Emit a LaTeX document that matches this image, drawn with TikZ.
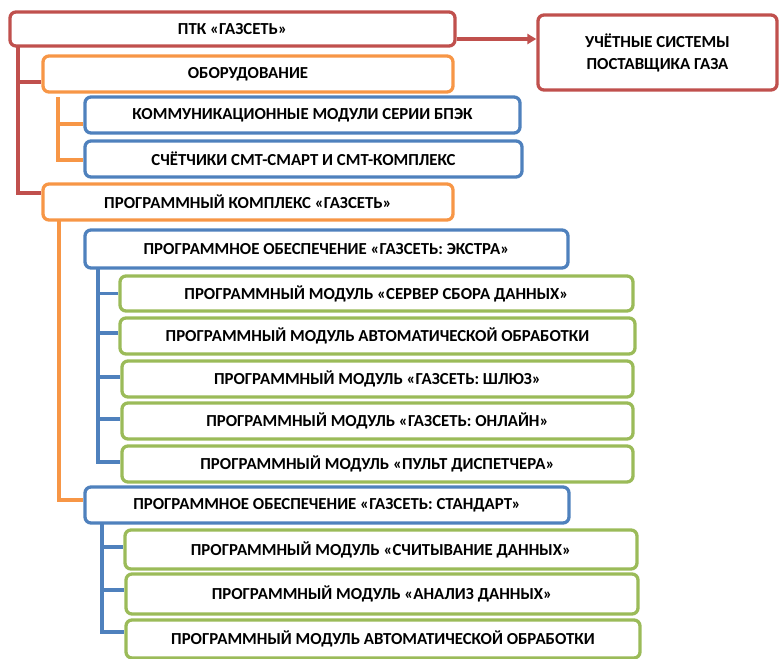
\documentclass[tikz,border=0pt]{standalone}
\usepackage{fontspec}
\setmainfont{Carlito}
\usetikzlibrary{calc,arrows.meta}
\definecolor{cred}{HTML}{C0504D}
\definecolor{corange}{HTML}{F79646}
\definecolor{cblue}{HTML}{4F81BD}
\definecolor{cgreen}{HTML}{9BBB59}
\tikzset{
  bx/.style={draw, line width=3.3pt, rounded corners=6pt, fill=white, inner sep=0pt,
    font=\bfseries\fontsize{16.8}{22}\selectfont, text=black, align=center},
  redbox/.style={bx, draw=cred},
  orbox/.style={bx, draw=corange},
  blbox/.style={bx, draw=cblue},
  grbox/.style={bx, draw=cgreen},
  ln/.style={line width=3.3pt},
}
\begin{document}
\begin{tikzpicture}[x=1pt,y=-1pt]
\useasboundingbox (0,0) rectangle (780,659);
% nodes
\node[redbox, minimum width=445, minimum height=34] (n1) at (232.5,29) {ПТК «ГАЗСЕТЬ»};
\node[redbox, minimum width=239, minimum height=75] (uchet) at (657.5,52.5) {УЧЁТНЫЕ СИСТЕМЫ\\ПОСТАВЩИКА ГАЗА};
\node[orbox, minimum width=410, minimum height=36] (oboru) at (248,74) {ОБОРУДОВАНИЕ};
\node[blbox, minimum width=435, minimum height=36] (komm) at (302.5,115) {КОММУНИКАЦИОННЫЕ МОДУЛИ СЕРИИ БПЭК};
\node[blbox, minimum width=437, minimum height=36] (schet) at (303.5,159) {СЧЁТЧИКИ СМТ-СМАРТ И СМТ-КОМПЛЕКС};
\node[orbox, minimum width=410, minimum height=36] (kompl) at (248,202) {ПРОГРАММНЫЙ КОМПЛЕКС «ГАЗСЕТЬ»};
\node[blbox, minimum width=483, minimum height=38] (ekstra) at (326.5,249) {ПРОГРАММНОЕ ОБЕСПЕЧЕНИЕ «ГАЗСЕТЬ: ЭКСТРА»};
\node[grbox, minimum width=513, minimum height=35] (g1) at (376.5,293.5) {ПРОГРАММНЫЙ МОДУЛЬ «СЕРВЕР СБОРА ДАННЫХ»};
\node[grbox, minimum width=515, minimum height=36] (g2) at (377.5,336) {ПРОГРАММНЫЙ МОДУЛЬ АВТОМАТИЧЕСКОЙ ОБРАБОТКИ};
\node[grbox, minimum width=511, minimum height=36] (g3) at (377.5,379) {ПРОГРАММНЫЙ МОДУЛЬ «ГАЗСЕТЬ: ШЛЮЗ»};
\node[grbox, minimum width=511, minimum height=36] (g4) at (377.5,421) {ПРОГРАММНЫЙ МОДУЛЬ «ГАЗСЕТЬ: ОНЛАЙН»};
\node[grbox, minimum width=511, minimum height=36] (g5) at (377.5,464) {ПРОГРАММНЫЙ МОДУЛЬ «ПУЛЬТ ДИСПЕТЧЕРА»};
\node[blbox, minimum width=484, minimum height=36] (stand) at (327,505) {ПРОГРАММНОЕ ОБЕСПЕЧЕНИЕ «ГАЗСЕТЬ: СТАНДАРТ»};
\node[grbox, minimum width=512, minimum height=39] (g6) at (381,549.5) {ПРОГРАММНЫЙ МОДУЛЬ «СЧИТЫВАНИЕ ДАННЫХ»};
\node[grbox, minimum width=512, minimum height=40] (g7) at (382,594) {ПРОГРАММНЫЙ МОДУЛЬ «АНАЛИЗ ДАННЫХ»};
\node[grbox, minimum width=514, minimum height=38] (g8) at (383,639) {ПРОГРАММНЫЙ МОДУЛЬ АВТОМАТИЧЕСКОЙ ОБРАБОТКИ};
% arrow
\coordinate (a0) at ($(n1.east)+(0,10)$);
\draw[ln, cred, -{Triangle[length=9pt,width=10pt]}] (a0) -- (a0 -| uchet.west);
% red tree
\coordinate (rt) at (18,46);
\draw[ln, cred] (rt) |- ($(oboru.west)+(0,8)$);
\draw[ln, cred] (rt) |- ($(kompl.west)+(0,-9)$);
% orange tree 1
\coordinate (ot) at (58,97);
\draw[ln, corange] (ot) |- ($(komm.west)+(0,9)$);
\draw[ln, corange] (ot) |- ($(schet.west)+(0,1)$);
% orange tree 2
\coordinate (ot2) at (59,220);
\draw[ln, corange] (ot2) |- ($(stand.west)+(0,-5)$);
% blue tree 1
\coordinate (bt) at (98,268);
\draw[ln, cblue] (bt) |- (g1.west);
\draw[ln, cblue] (bt) |- ($(g2.west)+(0,-3)$);
\draw[ln, cblue] (bt) |- ($(g3.west)+(0,-2)$);
\draw[ln, cblue] (bt) |- ($(g4.west)+(0,-2)$);
\draw[ln, cblue] (bt) |- ($(g5.west)+(0,-2)$);
% blue tree 2
\coordinate (bt2) at (102,523);
\draw[ln, cblue] (bt2) |- ($(g6.west)+(0,-2.5)$);
\draw[ln, cblue] (bt2) |- ($(g7.west)+(0,-4)$);
\draw[ln, cblue] (bt2) |- ($(g8.west)+(0,-7)$);
\end{tikzpicture}
\end{document}
